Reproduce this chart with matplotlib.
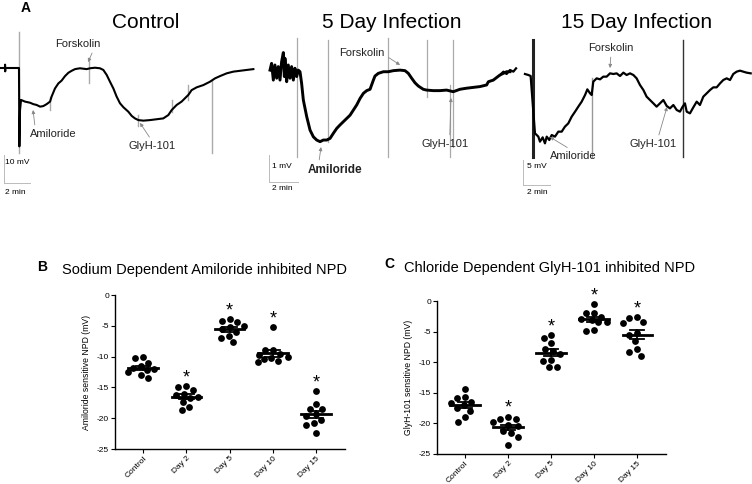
import numpy as np
import matplotlib
matplotlib.use("Agg")
import matplotlib.pyplot as plt

plt.rcParams['font.family'] = ['Liberation Sans', 'DejaVu Sans']
plt.rcParams['axes.unicode_minus'] = False

W, H = 752, 484

# ---- panel A: NPD traces (time in min, potential in mV) ----
ctrl_t = [0, 0.38, 0.39, 0.40, 0.41, 1.28, 1.46, 1.49, 1.54, 1.62, 1.92, 2.31, 2.56, 2.82, 3.08, 3.33, 3.59,
          3.85, 3.97, 4.23, 4.49, 4.74, 5.0, 5.26, 5.51, 5.77, 6.15, 6.67, 6.92, 7.31, 7.69, 7.95, 8.21,
          8.46, 8.72, 8.97, 9.23, 9.49, 9.87, 10.13, 10.38, 10.64, 11.03, 11.54, 12.05, 12.56, 12.95,
          13.21, 13.59, 13.97, 14.23, 14.49, 14.74, 15.13, 15.64, 16.15, 16.54, 16.92, 17.44, 17.95,
          18.46, 18.97, 19.49]
ctrl_v = [0, 0, 1.2, -1.2, 0, 0, 0, -28, -15, -11.4, -12.0, -12.4, -12.9, -13.2, -13.8, -13.6, -12.9,
          -12.0, -10.2, -7.3, -5.5, -4.5, -2.9, -1.7, -1.0, -0.4, -0.1, -0.4, -0.1, 0.1, -0.1, -0.7, -2.5,
          -4.9, -7.3, -10.2, -12.6, -14.0, -15.6, -17.1, -18.0, -18.6, -18.8, -18.6, -18.3, -18.0, -16.8,
          -15.0, -13.2, -12.0, -10.8, -9.6, -7.9, -6.9, -6.1, -4.9, -3.7, -2.9, -1.9, -1.3,
          -1.0, -0.7, -0.4]
ctrl_events = [(1.46, 13.0, -30.5), (3.85, -10.2, -15.0), (6.87, 3.5, -5.5), (10.64, -16.8, -20.7),
               (13.21, -11.4, -15.6), (14.49, -6.1, -11.4), (16.28, -4.3, -30.5)]

d5_t = [0, 0.11, 0.23, 0.34, 0.46, 0.57, 0.69, 0.80, 0.92, 0.99, 1.03, 1.15, 1.26, 1.38, 1.49, 1.61,
        1.72, 1.84, 1.95, 2.07, 2.18, 2.30, 2.53, 2.76, 2.99, 3.22, 3.45, 3.68, 3.91, 4.14, 4.37, 4.60,
        4.83, 5.06, 5.29, 5.52, 5.75, 5.98, 6.21, 6.44, 6.67, 6.90, 7.13, 7.24, 7.47, 7.82, 8.16, 8.51,
        8.97, 9.31, 9.54, 9.77, 10.0, 10.23, 10.57, 10.80, 11.26, 11.72, 12.18, 12.64, 13.10, 13.56,
        14.02, 14.48, 14.94, 15.06, 15.40, 15.86, 16.32, 16.55]
d5_v = [0.07, 0.32, -0.30, 0.26, -0.23, 0.20, -0.30, 0.38, 0.72, -0.17, 0.51, -0.36, 0.26, -0.23, 0.20,
        -0.30, 0.14, -0.17, 0.07, 0.01, -0.42, -1.04, -1.65, -2.15, -2.40, -2.52, -2.58, -2.52, -2.52,
        -2.46, -2.27, -2.09, -1.96, -1.84, -1.72, -1.60, -1.41, -1.22, -0.98, -0.79, -0.69, -0.64, -0.30,
        -0.15, -0.05, 0.01, 0.01, 0.05, 0.07, 0.05, -0.05, -0.23, -0.40, -0.52, -0.64, -0.67, -0.69,
        -0.69, -0.67, -0.73, -0.64, -0.60, -0.57, -0.54, -0.48, -0.36, -0.30, -0.11, 0.01, 0.01]
d5_events = [(1.89, 1.25, -3.14), (3.98, 1.19, -2.58), (8.16, 1.25, -3.14), (10.80, 1.19, -0.91),
             (12.41, -0.48, -3.14), (12.64, 1.19, -2.77)]

d15_t = [0, 0.25, 0.49, 0.74, 0.99, 1.19, 1.5, 1.85, 2.10, 2.27, 2.59, 2.72, 2.84, 2.96, 3.16, 3.33,
         3.46, 3.65, 3.83, 4.07, 4.32, 4.57, 4.81, 5.06, 5.31, 5.56, 5.80, 6.05, 6.30, 6.47, 6.67, 6.79,
         6.91, 7.16, 7.41, 7.65, 7.90, 8.15, 8.40, 8.64, 8.89, 9.14, 9.38, 9.63, 9.88, 10.12, 10.37,
         10.62, 10.86, 11.11, 11.36, 11.60, 11.85, 12.10, 12.35, 12.59, 12.84, 13.09, 13.33, 13.53,
         13.70, 13.83, 14.07, 14.32, 14.57, 14.81, 15.06, 15.31, 15.56, 15.80, 16.05, 16.30, 16.54,
         16.79, 17.04, 17.28, 17.53, 17.78, 18.02, 18.27, 18.57]
d15_v = [-0.4, 0.27, -0.2, 0.6, 0.27, 0.93, np.nan, -0.2, -0.4, -0.6, -12.07, -12.4, -12.73, -13.73,
         -12.87, -14.07, -12.73, -13.4, -12.4, -12.73, -11.73, -11.73, -10.73, -10.07, -8.73, -7.73,
         -6.73, -5.73, -4.4, -3.27, -4.07, -4.4, -1.73, -1.07, -1.27, -0.73, -0.73, -0.07, -0.2, -0.07,
         -0.6, 0.07, -0.4, -0.07, -0.4, -1.07, -2.4, -3.4, -4.73, -5.4, -6.07, -6.73, -6.07, -5.4, -6.6,
         -7.07, -6.4, -7.4, -7.73, -6.73, -6.07, -7.73, -8.07, -6.87, -5.73, -6.4, -4.73, -4.07, -3.4,
         -2.87, -2.87, -2.07, -1.4, -1.07, -1.4, -0.2, 0.27, 0.47, 0.27, 0.07, -0.07]
d15_events = [(2.47, 6.6, -16.73, '#222222', 2.2), (6.84, -1.07, -16.73, '#999999', 1.0),
              (13.53, 6.6, -16.73, '#333333', 1.0)]

# ---- panels B and C: scatter data (mV) ----
cats = ['Control', 'Day 2', 'Day 5', 'Day 10', 'Day 15']
amil = [[-10.2, -10.1, -11.1, -11.6, -11.8, -12.0, -12.2, -12.5, -13.0, -13.5],
        [-14.8, -15.0, -15.5, -16.0, -16.2, -16.5, -16.8, -17.4, -18.2, -18.7],
        [-3.9, -4.3, -4.4, -5.0, -5.2, -5.6, -6.0, -6.6, -6.9, -7.7],
        [-5.2, -9.0, -9.0, -9.6, -9.8, -10.0, -10.2, -10.4, -10.7, -10.9],
        [-15.6, -17.7, -18.5, -18.5, -19.3, -19.6, -20.3, -20.8, -21.1, -22.4]]
glyh = [[-14.4, -15.7, -15.9, -16.5, -16.7, -17.0, -17.5, -17.9, -19.0, -19.7],
        [-18.9, -19.3, -19.3, -19.7, -20.3, -20.5, -21.3, -21.6, -22.2, -23.5],
        [-5.6, -6.1, -6.9, -7.8, -8.2, -8.7, -9.6, -9.8, -10.8, -10.8],
        [-0.5, -1.9, -2.0, -2.6, -3.0, -3.1, -3.4, -3.5, -4.7, -4.9],
        [-2.6, -2.8, -3.5, -3.6, -5.3, -5.6, -6.5, -7.9, -8.3, -9.0]]
signif = [False, True, True, True, True]
yticks = [0, -5, -10, -15, -20, -25]

fig = plt.figure(figsize=(W / 100, H / 100), dpi=100)


def fpx(x, y):
    return x / W, 1 - y / H


def trace_axes(x0, x1, y0, y1, ox, oy, px_min, px_mv):
    ax = fig.add_axes([x0 / W, 1 - y1 / H, (x1 - x0) / W, (y1 - y0) / H])
    ax.set_xlim((x0 - ox) / px_min, (x1 - ox) / px_min)
    ax.set_ylim((oy - y1) / px_mv, (oy - y0) / px_mv)
    ax.axis('off')
    return ax


def label(ax, text, xy, txt_px, relpos, size=8, weight='normal'):
    ax.annotate(text, xy=xy, xycoords='data', xytext=(txt_px[0], H - txt_px[1]),
                textcoords='figure pixels', ha='center', va='center', fontsize=size,
                fontweight=weight, color='#222222',
                arrowprops=dict(arrowstyle='-|>', color='#888888', lw=0.6,
                                mutation_scale=5, relpos=relpos, shrinkA=1, shrinkB=0))


def scalebar(ax, t0, v0, dt, dv, lab_v, pos_v, pos_t):
    ax.plot([t0, t0], [v0, v0 - dv], color='#bbbbbb', lw=0.7)
    ax.plot([t0, t0 + dt], [v0 - dv, v0 - dv], color='#bbbbbb', lw=0.7)
    fig.text(*fpx(*pos_v), lab_v, fontsize=6, ha='left', va='center')
    fig.text(*fpx(*pos_t), '2 min', fontsize=6, ha='left', va='center')


# Control
ax = trace_axes(0, 258, 25, 200, 0, 68, 13, 2.8)
for t, top, bot in ctrl_events:
    ax.plot([t, t], [top, bot], color='#aaaaaa', lw=1.0)
ax.plot(ctrl_t, ctrl_v, color='black', lw=1.5)
scalebar(ax, 0.31, -31.1, 2, 10, '10 mV', (5, 163), (5, 193))
label(ax, 'Forskolin', (6.77, 2.1), (78, 44), (0.85, 0.0))
label(ax, 'Amiloride', (2.54, -15.0), (53, 134), (0.12, 1.0))
label(ax, 'GlyH-101', (10.77, -19.6), (152, 146), (0.5, 1.0))
fig.text(*fpx(146, 23), 'Control', fontsize=15, ha='center', va='center')

# 5 day infection
ax = trace_axes(262, 512, 25, 200, 270, 72, 14.5, 27)
for t, top, bot in d5_events:
    ax.plot([t, t], [top, bot], color='#aaaaaa', lw=0.9)
ax.plot(d5_t, d5_v, color='black', lw=2.1)
scalebar(ax, -0.07, -3.07, 2, 1, '1 mV', (272, 166), (272, 188))
label(ax, 'Forskolin', (8.97, 0.26), (362, 53), (1.0, 0.3))
label(ax, 'Amiloride', (3.52, -2.78), (335, 170), (0.2, 1.0), size=8.5, weight='bold')
label(ax, 'GlyH-101', (12.48, -0.96), (445, 144), (0.6, 1.0))
fig.text(*fpx(392, 23), '5 Day Infection', fontsize=15, ha='center', va='center')

# 15 day infection
ax = trace_axes(500, 752, 25, 200, 500, 73, 13.5, 5)
for t, top, bot, c, lw in d15_events:
    ax.plot([t, t], [top, bot], color=c, lw=lw)
ax.plot(d15_t, d15_v, color='black', lw=1.6)
scalebar(ax, 1.70, -17.4, 2, 5, '5 mV', (527, 166), (527, 193))
label(ax, 'Forskolin', (8.15, 1.0), (611, 48), (0.5, 0.0))
label(ax, 'Amiloride', (3.70, -12.8), (573, 156), (0.5, 1.0))
label(ax, 'GlyH-101', (12.37, -6.8), (653, 144), (0.6, 1.0))
fig.text(*fpx(637, 23), '15 Day Infection', fontsize=15, ha='center', va='center')

fig.text(*fpx(26, 8), 'A', fontsize=10, fontweight='bold', ha='center', va='center')


# ---- scatter panels ----
def swarm(vals, px_x, px_y, d=7.6, lim=15):
    # simple deterministic beeswarm, in pixel space
    vals = np.asarray(vals)
    offs = np.zeros(len(vals))
    placed = []
    cands = sorted(np.arange(-lim, lim + 1, 1.0), key=lambda c: (abs(c), c))
    for i in np.argsort(vals)[::-1]:
        y = vals[i] * px_y
        best, best_d = 0.0, -1.0
        for c in cands:
            md = min([np.hypot(c - px, y - py) for px, py in placed] or [99])
            if md >= d:
                best = c
                break
            if md > best_d:
                best, best_d = c, md
        placed.append((best, y))
        offs[i] = best / px_x
    return offs


def dot_panel(left, right, top, bottom, data, ylab):
    ax = fig.add_axes([left / W, 1 - bottom / H, (right - left) / W, (bottom - top) / H])
    ax.set_xlim(-0.65, 4.67)
    ax.set_ylim(-25, 0)
    px_x = (right - left) / 5.32
    px_y = (bottom - top) / 25
    for i, vals in enumerate(data):
        x = i + swarm(vals, px_x, px_y)
        ax.scatter(x, vals, s=24, color='black', zorder=3, clip_on=False, linewidths=0)
        m = np.mean(vals)
        sem = np.std(vals, ddof=1) / np.sqrt(len(vals))
        ax.plot([i - 0.34, i + 0.34], [m, m], color='black', lw=2.0, zorder=4)
        ax.plot([i, i], [m - sem, m + sem], color='black', lw=1.3, zorder=4)
        for e in (m - sem, m + sem):
            ax.plot([i - 0.17, i + 0.17], [e, e], color='black', lw=1.3, zorder=4)
        if signif[i]:
            ax.annotate('*', xy=(i, max(vals)), xytext=(0, 2.7), textcoords='offset points',
                        ha='center', va='baseline', fontsize=13, annotation_clip=False)
    ax.spines['top'].set_visible(False)
    ax.spines['right'].set_visible(False)
    for s in ('left', 'bottom'):
        ax.spines[s].set_linewidth(1.0)
    ax.set_yticks(yticks)
    ax.set_yticklabels([str(v) for v in yticks], fontsize=6)
    ax.set_xticks(range(len(cats)))
    ax.set_xticklabels(cats, fontsize=6, rotation=45, ha='right', rotation_mode='anchor')
    ax.tick_params(length=3, width=0.8, pad=1.2)
    ax.set_ylabel(ylab, fontsize=6.2, labelpad=4)
    return ax


dot_panel(115, 345, 295, 449, amil, 'Amiloride sensitive NPD (mV)')
dot_panel(437, 666, 301, 454, glyh, 'GlyH-101 sensitive NPD (mV)')

fig.text(*fpx(42, 267), 'B', fontsize=10, fontweight='bold', ha='center', va='center')
fig.text(*fpx(205, 270), 'Sodium Dependent Amiloride inhibited NPD', fontsize=10.5, ha='center', va='center')
fig.text(*fpx(389, 264), 'C', fontsize=10, fontweight='bold', ha='center', va='center')
fig.text(*fpx(550, 268), 'Chloride Dependent GlyH-101 inhibited NPD', fontsize=10.5, ha='center', va='center')

fig.savefig('out.png', dpi=100)
